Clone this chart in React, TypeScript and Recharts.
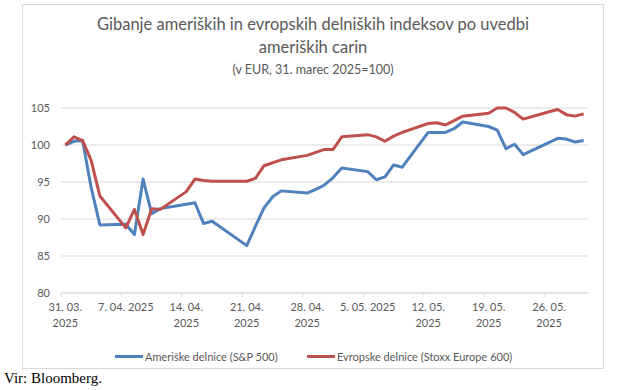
import React from "react";
import { LineChart, Line, XAxis, YAxis, CartesianGrid } from "recharts";

// trading days, counted from 31. 03. 2025 (day 0)
const days = [
  0, 1, 2, 3, 4, 7, 8, 9, 10, 11, 14, 15, 16, 17, 21, 22, 23, 24, 25, 28, 29, 30, 31, 32, 35, 36, 37, 38,
  39, 42, 43, 44, 45, 46, 49, 50, 51, 52, 53, 56, 57, 58, 59, 60,
];

const sp500 = [
  100, 100.5, 100.6, 94.2, 89.2, 89.3, 87.9, 95.4, 90.7, 91.4, 92.0, 92.2, 89.4, 89.7, 86.4, 89.0, 91.5,
  93.0, 93.8, 93.5, 94.0, 94.6, 95.6, 96.9, 96.4, 95.3, 95.7, 97.3, 97.0, 101.7, 101.7, 101.7, 102.2,
  103.1, 102.5, 102.0, 99.5, 100.1, 98.7, null, 100.9, 100.8, 100.4, 100.6,
];

const stoxx600 = [
  100, 101.1, 100.6, 97.9, 93.1, 88.8, 91.3, 87.9, 91.4, 91.3, 93.7, 95.4, 95.2, 95.1, 95.1, 95.5, 97.2,
  97.6, 98.0, 98.6, 99.0, 99.4, 99.4, 101.1, 101.4, 101.1, 100.5, 101.2, 101.7, 102.9, 103.0, 102.7,
  103.3, 103.9, 104.3, 105.0, 105.0, 104.4, 103.5, 104.5, 104.8, 104.1, 103.9, 104.2,
];

const xTicks = [0, 7, 14, 21, 28, 35, 42, 49, 56];
const xTickLabels = [
  ["31. 03.", "2025"],
  ["7. 04. 2025"],
  ["14. 04.", "2025"],
  ["21. 04.", "2025"],
  ["28. 04.", "2025"],
  ["5. 05. 2025"],
  ["12. 05.", "2025"],
  ["19. 05.", "2025"],
  ["26. 05.", "2025"],
];
const yTicks = [80, 85, 90, 95, 100, 105];

const data = days.map((d, i) => ({ day: d, sp: sp500[i], stoxx: stoxx600[i] }));

const TEXT = "#595959";
const GRID = "#D9D9D9";
const BLUE = "#4F81BD";
const RED = "#C0504D";
const FONT = "Lato, 'Open Sans', sans-serif";

const MARGIN = { top: 108, right: 39, bottom: 57, left: 11 };
const PLOT_W = 627 - MARGIN.left - 50 - MARGIN.right;
const HALF_DAY = PLOT_W / 61 / 2;

const DateTick = (props: any) => {
  const { x, y, payload } = props;
  const idx = xTicks.indexOf(payload.value);
  const lines = xTickLabels[idx] || [];
  return (
    <g>
      <line x1={x - HALF_DAY} x2={x - HALF_DAY} y1={y} y2={y + 4} stroke={GRID} />
      {lines.map((l, i) => (
        <text key={i} x={x} y={y + 18 + i * 16} textAnchor="middle" fill={TEXT} fontSize={11} fontFamily={FONT}>
          {l}
        </text>
      ))}
    </g>
  );
};

const LegendItem = ({ color, label, left }: { color: string; label: string; left: number }) => (
  <div style={{ position: "absolute", left, top: 348, display: "flex", alignItems: "center", height: 16 }}>
    <div style={{ width: 28, height: 3, background: color, marginRight: 2 }} />
    <span style={{ fontSize: 11, color: TEXT, fontFamily: FONT, whiteSpace: "nowrap" }}>{label}</span>
  </div>
);

export default function App() {
  return (
    <div
      style={{
        position: "absolute",
        left: 0,
        top: 0,
        width: 627,
        height: 390,
        overflow: "hidden",
        background: "#fff",
        fontFamily: FONT,
      }}
    >
      <div
        style={{
          position: "absolute",
          left: 22,
          top: 4,
          width: 580,
          height: 363,
          border: `1px solid ${GRID}`,
        }}
      />
      <div style={{ position: "absolute", left: 22, width: 582, top: 13, textAlign: "center", color: TEXT }}>
        <div style={{ fontSize: 16.5, lineHeight: "23px" }}>
          Gibanje ameriških in evropskih delniških indeksov po uvedbi
          <br />
          ameriških carin
        </div>
        <div style={{ fontSize: 12.5, lineHeight: "18px", marginTop: 2 }}>(v EUR, 31. marec 2025=100)</div>
      </div>
      <div style={{ position: "absolute", left: 0, top: 0 }}>
        <LineChart width={627} height={390} data={data} margin={MARGIN}>
          <CartesianGrid vertical={false} stroke={GRID} />
          <XAxis
            dataKey="day"
            type="number"
            domain={[-0.5, 60.5]}
            ticks={xTicks}
            interval={0}
            height={40}
            tickSize={0}
            tickMargin={0}
            axisLine={{ stroke: GRID }}
            tickLine={false}
            tick={<DateTick />}
          />
          <YAxis
            domain={[80, 105]}
            ticks={yTicks}
            width={50}
            axisLine={false}
            tickLine={false}
            tickSize={0}
            tickMargin={11}
            tick={{ fill: TEXT, fontSize: 11, fontFamily: FONT }}
          />
          <Line
            dataKey="sp"
            stroke={BLUE}
            strokeWidth={3}
            dot={false}
            connectNulls
            isAnimationActive={false}
            strokeLinejoin="round"
          />
          <Line
            dataKey="stoxx"
            stroke={RED}
            strokeWidth={3}
            dot={false}
            connectNulls
            isAnimationActive={false}
            strokeLinejoin="round"
          />
        </LineChart>
      </div>
      <LegendItem color={BLUE} label="Ameriške delnice (S&P 500)" left={115} />
      <LegendItem color={RED} label="Evropske delnice (Stoxx Europe 600)" left={307} />
      <div
        style={{
          position: "absolute",
          left: 4,
          top: 370,
          lineHeight: "17px",
          fontFamily: "'Liberation Serif', 'Times New Roman', serif",
          fontSize: 15,
          color: "#000",
        }}
      >
        Vir: Bloomberg.
      </div>
    </div>
  );
}
